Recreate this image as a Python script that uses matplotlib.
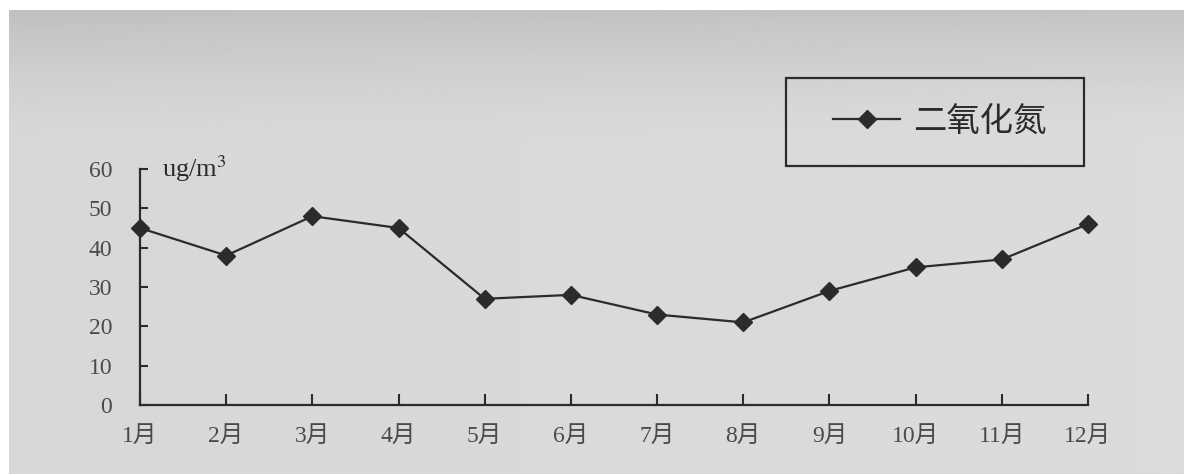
import numpy as np
import matplotlib
matplotlib.use("Agg")
import matplotlib.pyplot as plt
from matplotlib.lines import Line2D
from matplotlib.patches import Rectangle

plt.rcParams["mathtext.fontset"] = "stix"

# Monthly NO2 concentration (ug/m3)
months = ["1月", "2月", "3月", "4月", "5月", "6月", "7月", "8月", "9月", "10月", "11月", "12月"]
no2 = [45, 38, 48, 45, 27, 28, 23, 21, 29, 35, 37, 46]
y_ticks = [0, 10, 20, 30, 40, 50, 60]
series_name = "二氧化氮"
unit_label = "ug/m$^{3}$"

ink = "#2b2b2b"
label_col = "#4a4a4a"
fonts = ["Liberation Serif", "Noto Sans CJK SC"]

W, H = 1184, 474
fig = plt.figure(figsize=(W / 100, H / 100), dpi=100, facecolor="white")

# paper background: light grey, a little darker along the top edge
bg = fig.add_axes([9 / W, 0, 1 - 9 / W, 1 - 10 / H], zorder=-5)
gy, gx = np.mgrid[0:1:200j, 0:1:400j]
shade = 0.86 - 0.09 * np.clip(1 - gy * 3.5, 0, 1) ** 1.5 - 0.015 * (1 - gx)
bg.imshow(shade, cmap="gray", vmin=0, vmax=1, aspect="auto",
          extent=[0, 1, 0, 1], origin="upper", interpolation="bilinear")
bg.set_axis_off()

ax = fig.add_axes([140 / W, 1 - 405 / H, (1088 - 140) / W, (405 - 169) / H])
ax.patch.set_alpha(0)

x = np.arange(len(months))
ax.plot(x, no2, color=ink, lw=1.6, marker="D", markersize=9.5,
        markerfacecolor=ink, markeredgecolor=ink, clip_on=False, zorder=3)

ax.set_xlim(0, len(months) - 1)
ax.set_ylim(0, 60)
for s in ("top", "right"):
    ax.spines[s].set_visible(False)
for s in ("left", "bottom"):
    ax.spines[s].set_color(ink)
    ax.spines[s].set_linewidth(1.6)

ax.set_yticks(y_ticks)
ax.set_yticklabels([str(v) for v in y_ticks], family=fonts, fontsize=17, color=label_col)
ax.tick_params(axis="y", direction="in", length=6, width=1.5, color=ink, pad=20)
ax.set_yticks([60], minor=True)
ax.tick_params(axis="y", which="minor", direction="out", length=4, width=1.5, color=ink)

ax.set_xticks(x)
ax.set_xticklabels(months, family=fonts, fontsize=17, color=label_col)
ax.tick_params(axis="x", direction="in", length=8, width=1.5, color=ink, pad=15)

ax.text(22 / (1088 - 140), 1.0, unit_label, transform=ax.transAxes,
        family="Liberation Serif", fontsize=19, color=ink, ha="left", va="center")

# legend box
fig.patches.append(Rectangle((786 / W, 1 - 166 / H), 298 / W, 88 / H,
                             transform=fig.transFigure, fill=False,
                             edgecolor=ink, linewidth=1.6))
handle = Line2D([], [], color=ink, lw=1.6, marker="D", markersize=9.5,
                markerfacecolor=ink, markeredgecolor=ink)
fig.legend([handle], [series_name], loc="center",
           bbox_to_anchor=(940 / W, 1 - 122 / H), frameon=False,
           prop={"family": fonts, "size": 24}, handlelength=2.0,
           handletextpad=0.4, labelcolor=ink)

fig.savefig("out.png", dpi=100, facecolor=fig.get_facecolor())
